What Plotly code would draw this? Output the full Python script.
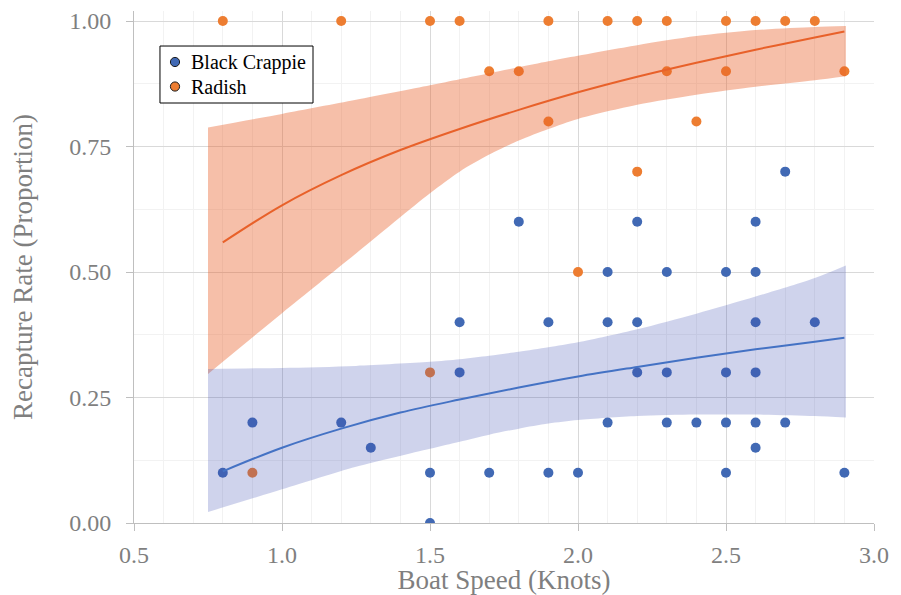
import plotly.graph_objects as go

# ---------------- data ----------------
bc_x = [0.8, 0.9, 1.2, 1.3, 1.5, 1.5, 1.6, 1.6, 1.7, 1.8, 1.9, 1.9, 2.0,
        2.1, 2.1, 2.1, 2.2, 2.2, 2.2, 2.3, 2.3, 2.3, 2.4, 2.5, 2.5, 2.5, 2.5,
        2.6, 2.6, 2.6, 2.6, 2.6, 2.6, 2.7, 2.7, 2.8, 2.9]
bc_y = [0.10, 0.20, 0.20, 0.15, 0.10, 0.00, 0.40, 0.30, 0.10, 0.60, 0.40, 0.10, 0.10,
        0.50, 0.40, 0.20, 0.60, 0.40, 0.30, 0.50, 0.30, 0.20, 0.20, 0.50, 0.30, 0.20, 0.10,
        0.60, 0.50, 0.40, 0.30, 0.20, 0.15, 0.70, 0.20, 0.40, 0.10]

rd_x = [0.8, 1.2, 1.5, 1.6, 1.9, 2.1, 2.2, 2.3, 2.5, 2.6, 2.7, 2.8,
        1.7, 1.8, 2.3, 2.5, 2.9,
        1.9, 2.4,
        2.2, 2.0, 1.5, 0.9]
rd_y = [1.0, 1.0, 1.0, 1.0, 1.0, 1.0, 1.0, 1.0, 1.0, 1.0, 1.0, 1.0,
        0.9, 0.9, 0.9, 0.9, 0.9,
        0.8, 0.8,
        0.7, 0.5, 0.3, 0.1]

# fitted curves
fit_x = [0.8, 1.0, 1.2, 1.4, 1.6, 1.8, 2.0, 2.2, 2.4, 2.6, 2.8, 2.9]
bc_fit = [0.103, 0.150, 0.188, 0.220, 0.246, 0.270, 0.292, 0.311, 0.329, 0.346, 0.361, 0.369]
rd_fit = [0.559, 0.633, 0.693, 0.743, 0.785, 0.823, 0.858, 0.889, 0.917, 0.943, 0.967, 0.979]

# confidence bands
band_x = [0.75, 1.0, 1.25, 1.5, 1.6, 1.7, 1.8, 1.9, 2.0, 2.2, 2.4, 2.6, 2.8, 2.905]
bc_upper = [0.307, 0.309, 0.313, 0.321, 0.326, 0.333, 0.341, 0.350, 0.360, 0.386, 0.417, 0.451, 0.488, 0.513]
bc_lower = [0.022, 0.067, 0.112, 0.148, 0.162, 0.176, 0.188, 0.198, 0.205, 0.213, 0.216, 0.216, 0.213, 0.210]
rd_upper = [0.788, 0.815, 0.843, 0.872, 0.884, 0.896, 0.908, 0.920, 0.931, 0.952, 0.970, 0.982, 0.988, 0.990]
rd_lower = [0.297, 0.418, 0.537, 0.657, 0.700, 0.734, 0.762, 0.785, 0.805, 0.833, 0.853, 0.869, 0.882, 0.890]

series_names = ["Black Crappie", "Radish"]

# ---------------- styles ----------------
BLUE = "#4169B4"
ORANGE = "#ED7D31"
FONT = "Liberation Serif, Times New Roman, serif"

fig = go.Figure()

# points
fig.add_trace(go.Scatter(x=bc_x, y=bc_y, mode="markers", name=series_names[0],
                         marker=dict(color=BLUE, size=10)))
fig.add_trace(go.Scatter(x=rd_x, y=rd_y, mode="markers", name=series_names[1],
                         marker=dict(color=ORANGE, size=10)))

# bands (lower edge, then upper edge filled to it)
for lower, upper, fc in [(rd_lower, rd_upper, "rgba(233,94,40,0.40)"),
                         (bc_lower, bc_upper, "rgba(63,81,181,0.25)")]:
    fig.add_trace(go.Scatter(x=band_x, y=lower, mode="lines",
                             line=dict(width=0, shape="spline", smoothing=0.8),
                             hoverinfo="skip"))
    fig.add_trace(go.Scatter(x=band_x, y=upper, mode="lines", fill="tonexty",
                             fillcolor=fc,
                             line=dict(width=0, shape="spline", smoothing=0.8),
                             hoverinfo="skip"))

# fitted lines
fig.add_trace(go.Scatter(x=fit_x, y=bc_fit, mode="lines",
                         line=dict(color="#4472C4", width=2, shape="spline")))
fig.add_trace(go.Scatter(x=fit_x, y=rd_fit, mode="lines",
                         line=dict(color="#E8612A", width=2, shape="spline")))

# ---------------- legend (drawn box) ----------------
shapes = [dict(type="rect", xref="paper", yref="paper",
               x0=0.0351, x1=0.2419, y0=0.8203, y1=0.9316,
               line=dict(color="#000000", width=1), fillcolor="white", layer="above")]
annotations = []
row_y_marker = [0.9004, 0.8525]
row_y_text = [0.8985, 0.8515]
for name, col, ym, yt in zip(series_names, [BLUE, ORANGE], row_y_marker, row_y_text):
    shapes.append(dict(type="circle", xref="paper", yref="paper",
                       xsizemode="pixel", ysizemode="pixel",
                       xanchor=0.0554, yanchor=ym,
                       x0=-4.6, x1=4.6, y0=-4.6, y1=4.6,
                       fillcolor=col, line=dict(color="#1a1a1a", width=1),
                       layer="above"))
    annotations.append(dict(xref="paper", yref="paper", x=0.0745, y=yt,
                            xanchor="left", yanchor="middle", showarrow=False,
                            text=name, font=dict(family=FONT, size=20, color="#000000")))

axis_common = dict(
    showline=True, linecolor="#BFBFBF", linewidth=1,
    ticks="outside", tickcolor="#BFBFBF", ticklen=7,
    showgrid=True, gridcolor="#D9D9D9", gridwidth=1,
    zeroline=False, automargin=False,
    tickfont=dict(family=FONT, size=24, color="#7F7F7F"),
    title_font=dict(family=FONT, size=27, color="#7F7F7F"),
)

# the page body adds an 8px offset, so the figure is 8px smaller
fig.update_layout(
    width=893, height=587,
    margin=dict(l=126, r=27, t=3, b=72),
    paper_bgcolor="white", plot_bgcolor="white",
    font=dict(family=FONT, color="#7F7F7F"),
    xaxis=dict(range=[0.5, 3.0], tick0=0.5, dtick=0.5, tickformat=".1f",
               title=dict(text="Boat Speed (Knots)", standoff=0),
               minor=dict(dtick=0.1, showgrid=True, gridcolor="#F2F2F2"),
               ticklabelstandoff=3,
               **axis_common),
    yaxis=dict(range=[0, 1.02], tick0=0, dtick=0.25, tickformat=".2f",
               title=dict(text="Recapture Rate (Proportion)", standoff=30),
               minor=dict(dtick=0.125, showgrid=True, gridcolor="#F2F2F2"),
               ticklabelstandoff=10,
               **axis_common),
    shapes=shapes,
    annotations=annotations,
    showlegend=False,
)

fig.write_html("out.html")
